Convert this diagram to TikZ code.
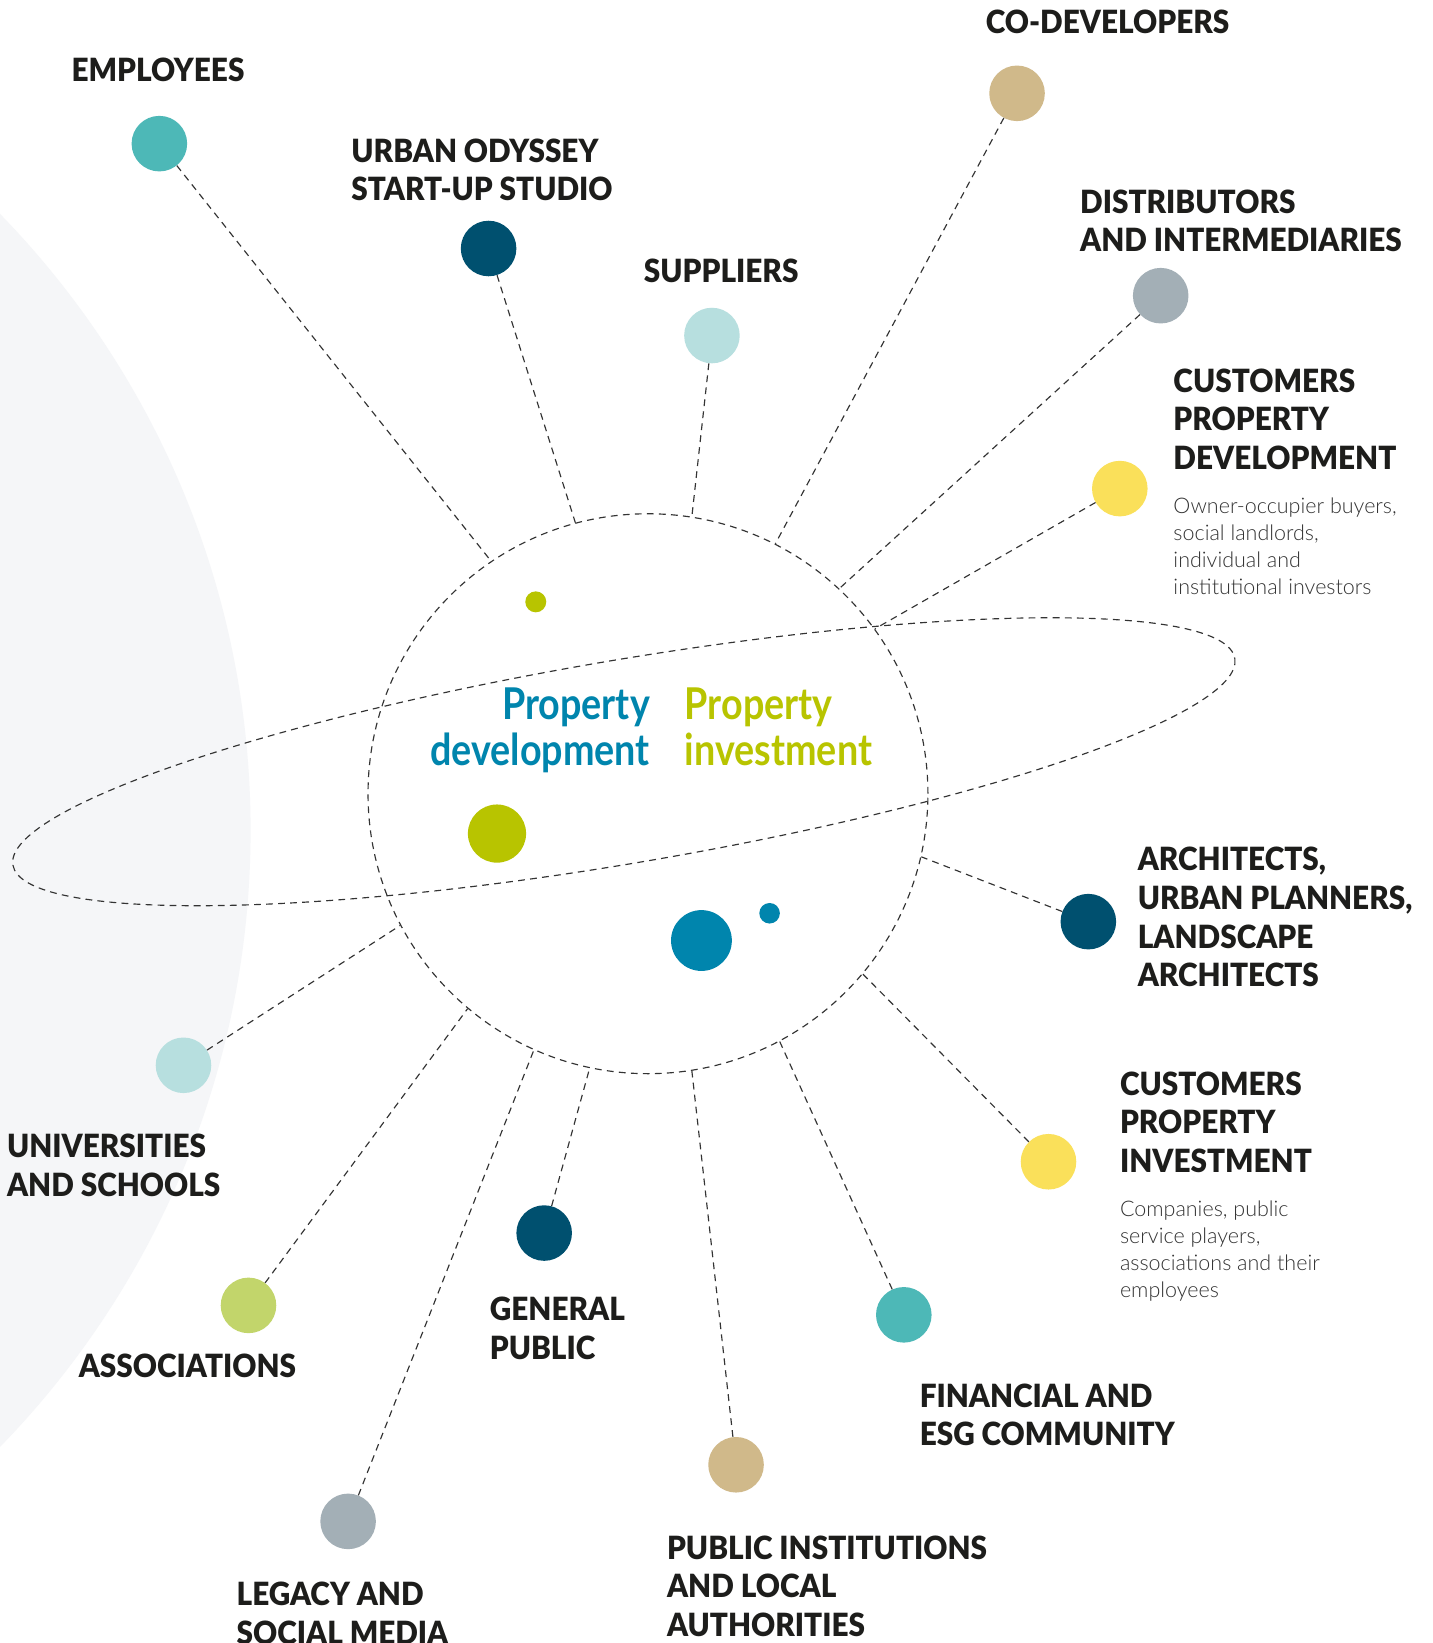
\documentclass[tikz,border=0pt]{standalone}
\usepackage{fontspec}
\setmainfont{Lato}
\newfontfamily\lblfont[FakeStretch=0.93]{Lato Black}
\newfontfamily\lightfont{Lato Light}
\newfontfamily\condfont[FakeStretch=0.86]{Lato Bold}
\definecolor{bggray}{HTML}{F5F6F8}
\definecolor{teal}{HTML}{4DB8B7}
\definecolor{navy}{HTML}{00506F}
\definecolor{pale}{HTML}{B7DFDF}
\definecolor{tan}{HTML}{D0B98A}
\definecolor{slate}{HTML}{A3AFB6}
\definecolor{sun}{HTML}{FAE05A}
\definecolor{lgreen}{HTML}{C2D56B}
\definecolor{olive}{HTML}{B8C400}
\definecolor{pblue}{HTML}{0085AD}
\definecolor{txt}{HTML}{1D1D1B}
\definecolor{desctxt}{HTML}{333333}
\definecolor{linegray}{HTML}{333333}
\begin{document}
\begin{tikzpicture}[x=1pt,y=-1pt,
  dot/.style={circle, inner sep=0pt, minimum size=53pt},
  conn/.style={draw=linegray, dash pattern=on 6.5pt off 5pt, line width=1.1pt},
  lbl/.style={anchor=north west, inner sep=0pt, align=left, text=txt,
    font=\lblfont\fontsize{30.5}{36.8}\selectfont},
  desc/.style={anchor=north west, inner sep=0pt, align=left, text=desctxt,
    font=\lightfont\fontsize{20.5}{25.8}\selectfont},
  core/.style={inner sep=0pt, font=\condfont\fontsize{41.8}{44.5}\selectfont}]
\useasboundingbox (0,0) rectangle (1366,1567);
\clip (0,0) rectangle (1366,1567);
\fill[white] (0,0) rectangle (1366,1567);
\fill[bggray] (-603.8,792) circle [radius=842.8];

% orbit and hub
\draw[conn, rotate around={9.6:(595,726.5)}] (595,726.5) ellipse [x radius=591, y radius=97];
\node[circle, conn, minimum size=534pt, inner sep=0pt] (hub) at (618,757) {};

% stakeholder dots
\node[dot, fill=teal]   (emp)  at (152,137) {};
\node[dot, fill=navy]   (uo)   at (466,237) {};
\node[dot, fill=pale]   (sup)  at (679,320) {};
\node[dot, fill=tan]    (codev) at (970,89) {};
\node[dot, fill=slate]  (dist) at (1107,282) {};
\node[dot, fill=sun]    (cpd)  at (1068,466) {};
\node[dot, fill=navy]   (arch) at (1038,879) {};
\node[dot, fill=sun]    (cpi)  at (1000,1108) {};
\node[dot, fill=teal]   (fin)  at (862,1254) {};
\node[dot, fill=tan]    (pub)  at (702,1397) {};
\node[dot, fill=navy]   (gen)  at (519,1176) {};
\node[dot, fill=slate]  (leg)  at (332,1451) {};
\node[dot, fill=lgreen] (asso) at (237,1245) {};
\node[dot, fill=pale]   (univ) at (175,1016) {};

% connectors
\draw[conn] (emp) -- (hub.124.4);
\draw[conn] (uo) -- (hub.105.3);
\draw[conn] (sup) -- (hub.81.8);
\draw[conn] (codev) -- (hub.63.6);
\draw[conn] (dist) -- (hub.47.1);
\draw[conn] (cpd) -- (hub.36.9);
\draw[conn] (arch) -- (hub.-13.9);
\draw[conn] (cpi) -- (hub.-40.3);
\draw[conn] (fin) -- (hub.-62.5);
\draw[conn] (pub) -- (hub.-81.7);
\draw[conn] (gen) -- (hub.-102.9);
\draw[conn] (leg) -- (hub.-114.2);
\draw[conn] (asso) -- (hub.-130.6);
\draw[conn] (univ) -- (hub.-152.7);

% inner dots
\node[circle, inner sep=0pt, minimum size=20pt, fill=olive] (gs) at (511,574) {};
\node[circle, inner sep=0pt, minimum size=55.5pt, fill=olive] (gb) at (474,795) {};
\node[circle, inner sep=0pt, minimum size=58pt, fill=pblue] (bb) at (669,897) {};
\node[circle, inner sep=0pt, minimum size=19.6pt, fill=pblue] (bs) at (734,871) {};

% centre text
\node[core, anchor=north east, align=right, text=pblue] (pdev) at (620,655.6) {Property\\development};
\node[core, anchor=north west, align=left, text=olive] (pinv) at (653,655.6) {Property\\investment};

% labels
\node[lbl] (tEmp) at (68,55) {EMPLOYEES};
\node[lbl] (tUo) at (335,132) {URBAN ODYSSEY\\START-UP STUDIO};
\node[lbl] (tSup) at (614,247) {SUPPLIERS};
\node[lbl] (tCodev) at (940,9.5) {CO-DEVELOPERS};
\node[lbl] (tDist) at (1030,180.5) {DISTRIBUTORS\\AND INTERMEDIARIES};
\node[lbl] (tCpd) at (1119,351.5) {CUSTOMERS\\PROPERTY\\DEVELOPMENT};
\node[desc] (dCpd) at (1119,474.5) {Owner-occupier buyers,\\social landlords,\\individual and\\institutional investors};
\node[lbl] (tArch) at (1085,808) {ARCHITECTS,\\URBAN PLANNERS,\\LANDSCAPE\\ARCHITECTS};
\node[lbl] (tCpi) at (1068,1022) {CUSTOMERS\\PROPERTY\\INVESTMENT};
\node[desc] (dCpi) at (1068,1145) {Companies, public\\service players,\\associations and their\\employees};
\node[lbl] (tFin) at (877,1319.5) {FINANCIAL AND\\ESG COMMUNITY};
\node[lbl] (tPub) at (636,1464.5) {PUBLIC INSTITUTIONS\\AND LOCAL\\AUTHORITIES};
\node[lbl] (tGen) at (467,1237) {GENERAL\\PUBLIC};
\node[lbl] (tLeg) at (225.5,1509) {LEGACY AND\\SOCIAL MEDIA};
\node[lbl] (tAsso) at (75,1291.5) {ASSOCIATIONS};
\node[lbl] (tUniv) at (6.5,1081.5) {UNIVERSITIES\\AND SCHOOLS};
\end{tikzpicture}
\end{document}
